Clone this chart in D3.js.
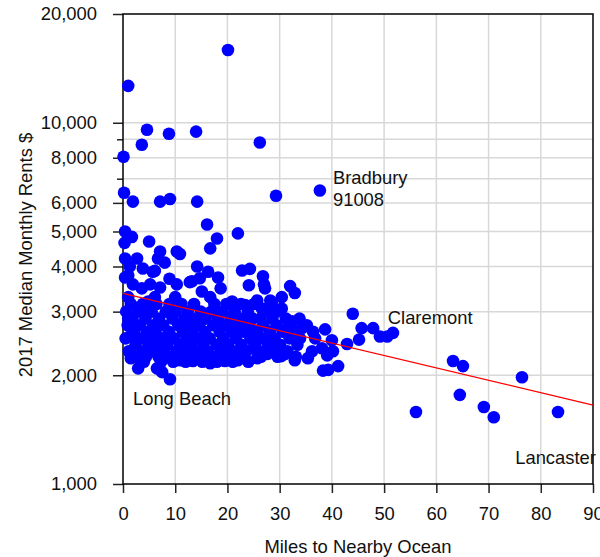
<!DOCTYPE html>
<html>
<head>
<meta charset="utf-8">
<script src="https://cdn.jsdelivr.net/npm/d3@7"></script>
<style>
  body { margin: 0; background: #fff; }
  text { font-family: "Liberation Sans", Arial, Helvetica, sans-serif; }
</style>
</head>
<body>
<div id="chart"></div>
<script>
// [miles to ocean, median rent $] pairs
const outliers = [[20.1,15900],[1.0,12650],[4.6,9560],[8.8,9320],[14.0,9450],[3.6,8690],[26.2,8820],
  [0.1,8050],[0.2,6400],[1.9,6050],[7.1,6050],[9.0,6150],[14.2,6050],[29.3,6280],[37.7,6490]];

const upperBand = [[16.1,5230],[22.0,4940],[18.0,4780],[16.7,4490],[0.4,5000],[1.7,4830],[0.3,4650],
  [5.0,4690],[7.1,4400],[10.3,4400],[10.9,4330],[2.7,4210],[0.4,4210],[6.7,4210],[8.0,4100],[3.8,3950],
  [1.3,4000],[0.4,3730],[5.7,3870],[6.1,3890],[1.0,3780],[14.2,4000],[16.3,3870],[18.2,3730],[22.8,3900],
  [24.3,3940],[26.8,3760],[27.0,3570],[24.1,3550],[27.2,3480],[18.7,3480],[32.0,3530],[32.9,3380],
  [10.3,3570],[13.2,3640],[5.2,3570],[7.1,3500],[1.9,3570],[3.6,3480],[15.1,3410],[16.7,3290],[10.0,3290],
  [6.1,3290],[1.0,3290],[4.8,3200],[30.4,3290],[28.2,3220],[25.7,3220],[20.9,3200],[23.4,3130],[28.5,3180],
  [12.8,3620],[14.7,3710],[8.9,3700]];

const cluster = [
  [1.5,3150],[3.8,3150],[6.4,3150],[8.9,3150],[11.2,3150],[13.6,3150],[17.5,3150],[19.8,3150],[22.6,3150],[25.1,3150],
  [0.6,3000],[2.9,3000],[5.5,3000],[8.2,3000],[10.1,3000],[12.4,3000],[14.9,3000],[16.9,3000],[19.1,3000],[21.4,3000],[23.9,3000],[27.9,3000],[29.5,3000],
  [1.8,2870],[4.3,2870],[6.9,2870],[9.5,2870],[11.8,2870],[13.9,2870],[15.8,2870],[18.2,2870],[20.6,2870],[22.9,2870],[24.8,2870],[26.3,2870],[28.6,2870],[31.2,2870],[33.8,2870],
  [0.9,2750],[3.2,2750],[5.8,2750],[7.7,2750],[10.6,2750],[12.9,2750],[14.6,2750],[17.3,2750],[19.6,2750],[21.8,2750],[24.1,2750],[26.9,2750],[29.4,2750],[31.7,2750],[35.2,2750],
  [2.1,2640],[4.6,2640],[6.2,2640],[8.8,2640],[11.5,2640],[13.3,2640],[15.7,2640],[18.5,2640],[20.9,2640],[23.2,2640],[25.5,2640],[28.1,2640],[30.6,2640],[33.0,2640],
  [0.5,2530],[3.5,2530],[5.1,2530],[7.4,2530],[9.8,2530],[12.2,2530],[14.3,2530],[16.6,2530],[19.2,2530],[21.6,2530],[24.4,2530],[26.7,2530],[29.0,2530],[31.9,2530],[36.8,2530],
  [2.4,2430],[4.9,2430],[6.6,2430],[8.5,2430],[10.9,2430],[13.1,2430],[15.4,2430],[17.9,2430],[20.1,2430],[22.7,2430],[25.3,2430],[27.8,2430],[30.1,2430],[33.4,2430],
  [1.1,2330],[3.9,2330],[5.9,2330],[7.9,2330],[10.3,2330],[12.6,2330],[14.8,2330],[16.2,2330],[18.8,2330],[21.2,2330],[23.6,2330],[26.1,2330],[28.7,2330],[31.5,2330],[36.2,2330],
  [2.6,2250],[4.4,2250],[6.8,2250],[9.2,2250],[11.6,2250],[14.1,2250],[15.9,2250],[17.7,2250],[20.3,2250],[23.1,2250],[26.4,2250],[29.6,2250],[33.1,2250],
  [4.0,2180],[7.3,2180],[9.6,2180],[12.0,2180],[15.2,2180],[18.0,2180],[21.0,2180],[24.0,2180]];

const clusterEdge = [[1.5,2230],[2.9,2090],[6.5,2090],[7.5,2040],[9.0,1950],[10.9,2200],[13.4,2190],
  [16.7,2160],[19.5,2190],[30.3,2260],[1.9,2660],[1.3,2560],[1.0,2870],[3.6,3070]];

const nearLine = [[30.4,3060],[26.6,3060],[32.4,2820],[34.3,2700],[36.4,2640],[38.7,2680],[40.0,2500],
  [42.9,2440],[44.0,2960],[45.7,2700],[47.9,2700],[49.2,2560],[50.6,2560],[51.7,2620],[45.2,2510],
  [33.9,2530],[38.1,2375],[40.2,2330],[39.1,2270],[35.4,2230],[38.3,2060],[39.3,2070],[41.2,2120],
  [32.9,2200],[31.0,2290],[29.1,2330],[27.6,2290],[25.7,2230],[24.9,2375],[22.0,2200],[20.5,2230],[25.7,2660]];

const farEast = [[63.2,2190],[65.1,2120],[76.4,1975],[64.5,1765],[56.1,1582],[69.1,1633],[71.0,1530],[83.3,1582]];

// regression line end points
const fitLine = [[0,3370],[90,1654]];

const xTicks = [0,10,20,30,40,50,60,70,80,90];
const yTicks = [1000,2000,3000,4000,5000,6000,7000,8000,9000,10000,20000];
const yLabelled = [1000,2000,3000,4000,5000,6000,8000,10000,20000];

const notes = [
  {lines: ["Bradbury", "91008"], miles: 40.2, rent: 6770},
  {lines: ["Claremont"], miles: 50.7, rent: 2773},
  {lines: ["Long Beach"], miles: 1.9, rent: 1654},
  {lines: ["Lancaster"], miles: 75.1, rent: 1136}
];

const W = 600, H = 557;
const margin = {top: 14, right: 7, bottom: 73, left: 123};
const fontSize = 18.4;

const svg = d3.select("#chart").append("svg")
  .attr("width", W).attr("height", H);

const x = d3.scaleLinear().domain([0, 90]).range([margin.left, W - margin.right]);
const y = d3.scaleLog().domain([1000, 20000]).range([H - margin.bottom, margin.top]);

// grid
svg.append("g").selectAll("line").data(xTicks.slice(1, -1)).join("line")
  .attr("x1", d => x(d)).attr("x2", d => x(d))
  .attr("y1", y(1000)).attr("y2", y(20000))
  .attr("stroke", "#d8d8d8").attr("stroke-width", 1.5);
svg.append("g").selectAll("line").data(yTicks.slice(1, -1)).join("line")
  .attr("x1", x(0)).attr("x2", x(90))
  .attr("y1", d => y(d)).attr("y2", d => y(d))
  .attr("stroke", "#d8d8d8").attr("stroke-width", 1.5);

// axes
const fmt = d3.format(",");
const xAxis = svg.append("g")
  .attr("transform", `translate(0,${y(1000)})`)
  .call(d3.axisBottom(x).tickValues(xTicks).tickSize(9).tickPadding(14));
const yAxis = svg.append("g")
  .attr("transform", `translate(${x(0)},0)`)
  .call(d3.axisLeft(y).tickValues(yTicks)
    .tickSize(10).tickPadding(16)
    .tickFormat(d => yLabelled.includes(d) ? fmt(d) : ""));
yAxis.selectAll(".tick line")
  .attr("x2", d => yLabelled.includes(d) ? -10 : -6);
[xAxis, yAxis].forEach(g => {
  g.select(".domain").remove();
  g.selectAll(".tick line").attr("stroke", "#222").attr("stroke-width", 1.5);
  g.selectAll(".tick text").attr("font-size", fontSize).attr("fill", "#111")
    .attr("font-family", '"Liberation Sans", Arial, sans-serif');
});

// frame
svg.append("rect")
  .attr("x", x(0)).attr("y", y(20000))
  .attr("width", x(90) - x(0)).attr("height", y(1000) - y(20000))
  .attr("fill", "none").attr("stroke", "#000").attr("stroke-width", 1.5);

// dots
const allPoints = [].concat(outliers, upperBand, cluster, clusterEdge, nearLine, farEast);
svg.append("g").selectAll("circle").data(allPoints).join("circle")
  .attr("cx", d => x(d[0])).attr("cy", d => y(d[1]))
  .attr("r", 6.3).attr("fill", "#0000ff");

// fit line
svg.append("path")
  .datum(fitLine)
  .attr("d", d3.line().x(d => x(d[0])).y(d => y(d[1])))
  .attr("stroke", "#ff0000").attr("stroke-width", 1.2).attr("fill", "none");

// annotations
const noteText = svg.append("g").selectAll("text").data(notes).join("text")
  .attr("x", d => x(d.miles)).attr("y", d => y(d.rent))
  .attr("font-size", fontSize).attr("fill", "#111");
noteText.selectAll("tspan").data(d => d.lines.map(t => ({t, m: d.miles}))).join("tspan")
  .attr("x", d => x(d.m)).attr("dy", (d, i) => i ? 22 : 0)
  .text(d => d.t);

// axis titles
svg.append("text")
  .attr("x", (x(0) + x(90)) / 2).attr("y", 553)
  .attr("text-anchor", "middle").attr("font-size", fontSize).attr("fill", "#111")
  .text("Miles to Nearby Ocean");
svg.append("text")
  .attr("transform", `translate(32,255) rotate(-90)`)
  .attr("text-anchor", "middle").attr("font-size", fontSize).attr("fill", "#111")
  .text("2017 Median Monthly Rents $");
</script>
</body>
</html>
